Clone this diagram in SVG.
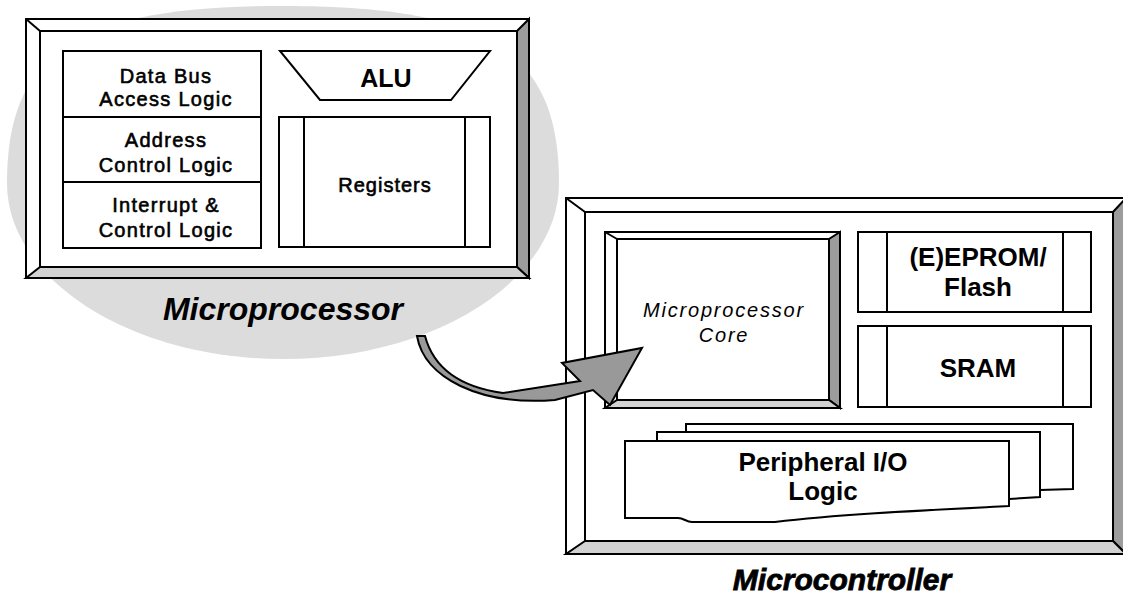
<svg xmlns="http://www.w3.org/2000/svg" width="1123" height="598" viewBox="0 0 1123 598">
  <style>
    .ln { stroke: #000; stroke-width: 2; fill: none; }
    .box { stroke: #000; stroke-width: 2; fill: #fff; }
    .dark { fill: #9c9c9c; stroke: #000; stroke-width: 2; stroke-linejoin: miter; }
    .light { fill: #d2d2d2; stroke: #000; stroke-width: 2; stroke-linejoin: miter; }
    .t { font-family: "Liberation Sans", Arial, sans-serif; fill: #000; text-anchor: middle; }
    .reg { font-size: 20px; letter-spacing: 1.3px; stroke: #000; stroke-width: 0.6px; }
    .bold { font-size: 26px; font-weight: bold; }
    .core { font-size: 20px; font-style: italic; letter-spacing: 1.8px; }
    .title { font-weight: bold; font-style: italic; }
  </style>

  <rect width="1123" height="598" fill="#fff"/>

  <!-- grey backdrop behind the processor block -->
  <path id="backdrop" d="M7,183 C7,50 80,6 283,6 C486,6 559,50 559,183 C559,280 435,359 283,359 C131,359 7,280 7,183 Z" fill="#dcdcdc"/>

  <!-- Microprocessor block -->
  <g id="microprocessor">
    <rect class="box" x="26" y="19" width="503" height="259"/>
    <polygon class="dark" points="529,19 529,278 517,267 517,31"/>
    <polygon class="light" points="26,278 529,278 517,267 40,267"/>
    <line class="ln" x1="26" y1="19" x2="40" y2="31"/>
    <rect class="box" x="40" y="31" width="477" height="236"/>
  </g>

  <g id="bus-logic-stack">
    <rect class="box" x="63" y="51" width="198" height="197"/>
    <line class="ln" x1="63" y1="117" x2="261" y2="117"/>
    <line class="ln" x1="63" y1="182" x2="261" y2="182"/>
    <text class="t reg" x="166" y="83">Data Bus</text>
    <text class="t reg" x="166" y="106">Access Logic</text>
    <text class="t reg" x="166" y="147">Address</text>
    <text class="t reg" x="166" y="172">Control Logic</text>
    <text class="t reg" x="166" y="212">Interrupt &amp;</text>
    <text class="t reg" x="166" y="237">Control Logic</text>
  </g>

  <g id="alu">
    <polygon class="box" points="280,51 490,51 451,100 320,100"/>
    <text class="t" x="386" y="87" style="font-size:25px;font-weight:bold">ALU</text>
  </g>

  <g id="registers">
    <rect class="box" x="279" y="117" width="211" height="130"/>
    <line class="ln" x1="304" y1="117" x2="304" y2="247"/>
    <line class="ln" x1="465" y1="117" x2="465" y2="247"/>
    <text class="t reg" x="385" y="192" style="letter-spacing:1px">Registers</text>
  </g>

  <text id="microprocessor-label" class="t title" x="283" y="320" style="font-size:32px">Microprocessor</text>

  <!-- Microcontroller block -->
  <g id="microcontroller">
    <rect class="box" x="566" y="198" width="560" height="356"/>
    <polygon class="dark" points="1126,198 1126,554 1113,541 1113,212"/>
    <polygon class="light" points="566,554 1126,554 1113,541 585,541"/>
    <line class="ln" x1="566" y1="198" x2="585" y2="212"/>
    <rect class="box" x="585" y="212" width="528" height="329"/>
  </g>

  <g id="core">
    <rect class="box" x="605" y="232" width="235" height="176"/>
    <polygon class="dark" points="840,232 840,408 829,400 829,239"/>
    <polygon class="light" points="605,408 840,408 829,400 617,400"/>
    <line class="ln" x1="605" y1="232" x2="617" y2="239"/>
    <rect class="box" x="617" y="239" width="212" height="161"/>
    <text class="t core" x="724" y="317">Microprocessor</text>
    <text class="t core" x="724" y="342">Core</text>
  </g>

  <g id="eprom">
    <rect class="box" x="858" y="232" width="233" height="80"/>
    <line class="ln" x1="887" y1="232" x2="887" y2="312"/>
    <line class="ln" x1="1063" y1="232" x2="1063" y2="312"/>
    <text class="t bold" x="978" y="266">(E)EPROM/</text>
    <text class="t bold" x="978" y="296">Flash</text>
  </g>

  <g id="sram">
    <rect class="box" x="858" y="326" width="233" height="81"/>
    <line class="ln" x1="887" y1="326" x2="887" y2="407"/>
    <line class="ln" x1="1063" y1="326" x2="1063" y2="407"/>
    <text class="t bold" x="978" y="377">SRAM</text>
  </g>

  <g id="peripheral-io">
    <path class="box" d="M686,424 H1073 V489 L1040,490 L686,492 Z"/>
    <path class="box" d="M657,432 H1040 V497 L1009,499 L657,503 Z"/>
    <path class="box" d="M625,441 H1009 V506 C930,510 840,514 775,522 L692,522 C686,522 684,518 678,518 L625,518 Z"/>
    <text class="t bold" x="823" y="471">Peripheral I/O</text>
    <text class="t bold" x="823" y="500">Logic</text>
  </g>

  <text id="microcontroller-label" class="t title" x="842" y="590" style="font-size:30px;stroke:#000;stroke-width:0.8px">Microcontroller</text>

  <!-- curved arrow from the processor into the core -->
  <g id="connectors">
    <path d="M425,336 C432,362 452,386 503,393 L580,381 L562,363 L642,348 L610,405 L593,390 L555,400 C480,406 424,378 417,336 Z" fill="#999" stroke="#000" stroke-width="2" stroke-linejoin="miter"/>
  </g>
</svg>
